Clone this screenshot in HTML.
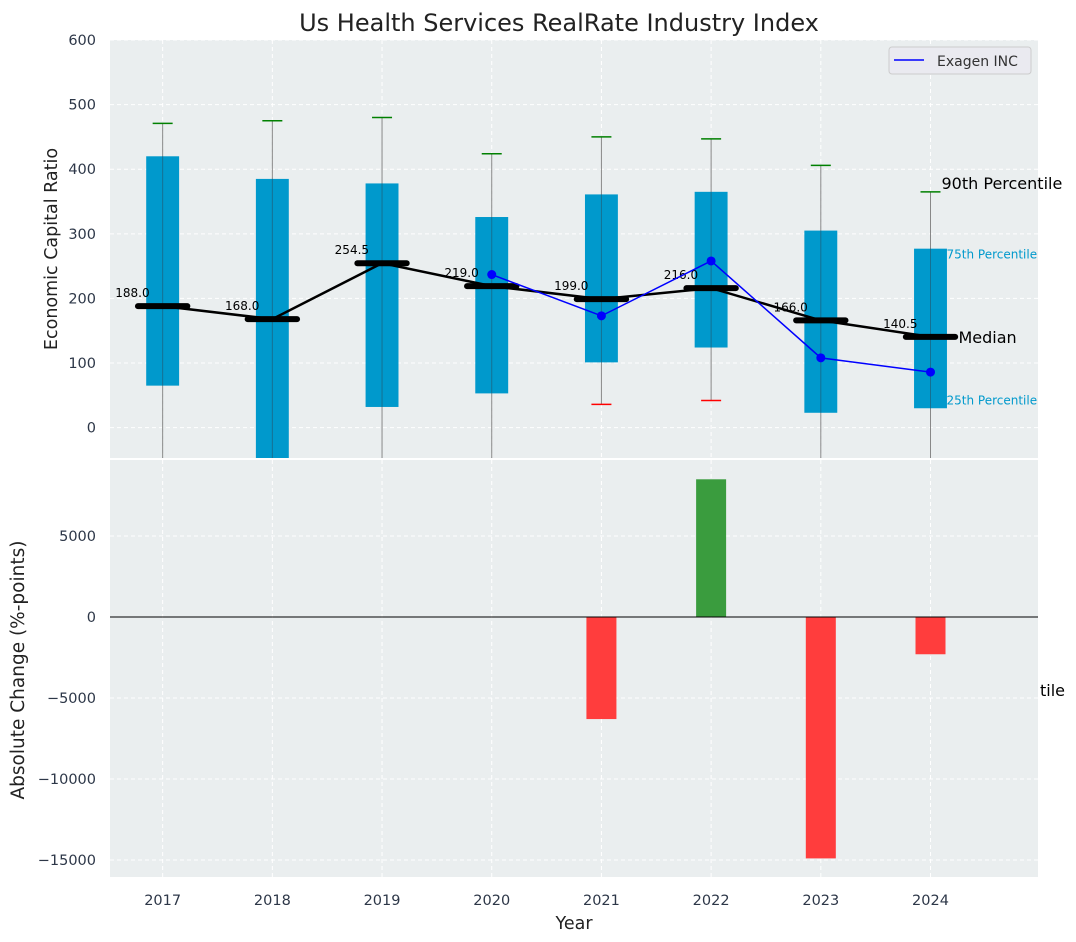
<!DOCTYPE html>
<html><head><meta charset="utf-8"><style>
body{margin:0;background:#fff;}
svg{display:block;font-family:"DejaVu Sans","Liberation Sans",sans-serif;}
</style></head><body>
<svg id="c" width="1076" height="942"></svg>
<script>
const years=[2017,2018,2019,2020,2021,2022,2023,2024];
const p25=[65,-60,32,53,101,124,23,30];
const p75=[420,385,378,326,361,365,305,277];
const p90=[471,475,480,424,450,447,406,365];
const p10=[-100,-100,-100,-100,36,42,-100,-100];
const medians=[188,168,254.5,219,199,216,166,140.5];
const exYears=[2020,2021,2022,2023,2024];
const exVals=[237,173,258,108,86];
const chgYears=[2021,2022,2023,2024];
const chgVals=[-6300,8500,-14900,-2300];
const topTicks=[0,100,200,300,400,500,600];
const botTicks=[-15000,-10000,-5000,0,5000];

const NS="http://www.w3.org/2000/svg";
const svg=document.getElementById('c');
function el(t,a,p){const e=document.createElementNS(NS,t);for(const k in a)e.setAttribute(k,a[k]);(p||svg).appendChild(e);return e;}
const L=110,R=1038;
const x=v=>L+(v-2016.52)*(R-L)/(2024.98-2016.52);
const T0=40,T1=458;const yt=v=>T0+(600-v)*(T1-T0)/(600-(-47));
const B0=460,B1=877;const yb=v=>617-v*81/5000;

let e=el('rect',{x:L,y:T0,width:R-L,height:T1-T0,fill:'#eaeeef'});

e=el('rect',{x:L,y:B0,width:R-L,height:B1-B0,fill:'#eaeeef'});


const clipT=el('clipPath',{id:'ct'});el('rect',{x:L,y:T0,width:R-L,height:T1-T0},clipT);
const clipB=el('clipPath',{id:'cb'});el('rect',{x:L,y:B0,width:R-L,height:B1-B0},clipB);
const gT=el('g',{'clip-path':'url(#ct)'});const gB=el('g',{'clip-path':'url(#cb)'});

topTicks.forEach(v=>{el('line',{x1:L,x2:R,y1:yt(v),y2:yt(v),stroke:'#fff','stroke-dasharray':'4,3','stroke-width':1},gT);
 e=el('text',{x:96,y:yt(v)+5,'text-anchor':'end','font-size':14.5,fill:'#2d3748'});e.textContent=v;
 });
botTicks.forEach(v=>{el('line',{x1:L,x2:R,y1:yb(v),y2:yb(v),stroke:'#fff','stroke-dasharray':'4,3','stroke-width':1},gB);
 e=el('text',{x:96,y:yb(v)+5,'text-anchor':'end','font-size':14.5,fill:'#2d3748'});e.textContent=v===0?'0':(v<0?'\u2212'+(-v):v);
 });
years.forEach(v=>{el('line',{x1:x(v),x2:x(v),y1:T0,y2:T1,stroke:'#fff','stroke-dasharray':'4,3'},gT);
 el('line',{x1:x(v),x2:x(v),y1:B0,y2:B1,stroke:'#fff','stroke-dasharray':'4,3'},gB);
 e=el('text',{x:x(v),y:905,'text-anchor':'middle','font-size':14.5,fill:'#2d3748'});e.textContent=v;
 });

const bw=0.3*(R-L)/8.46;
years.forEach((yr,i)=>{const cx=x(yr);
 e=el('line',{x1:cx,x2:cx,y1:yt(p90[i]),y2:yt(p10[i]),stroke:'#888','stroke-width':1},gT);
 
 e=el('rect',{x:cx-bw/2,y:yt(p75[i]),width:bw,height:yt(p25[i])-yt(p75[i]),fill:'#0099cc'},gT);
 
 el('line',{x1:cx,x2:cx,y1:yt(p75[i]),y2:yt(p25[i]),stroke:'#1f5f7a','stroke-width':1,opacity:0.7},gT);
 e=el('line',{x1:cx-10,x2:cx+10,y1:yt(p90[i]),y2:yt(p90[i]),stroke:'green','stroke-width':1.5},gT);
 
 if(p10[i]>-47){e=el('line',{x1:cx-10,x2:cx+10,y1:yt(p10[i]),y2:yt(p10[i]),stroke:'red','stroke-width':1.5},gT);
 }
});
e=el('polyline',{points:years.map((yr,i)=>x(yr)+','+yt(medians[i])).join(' '),fill:'none',stroke:'#000','stroke-width':2.5});

const mw=0.45*(R-L)/8.46;
years.forEach((yr,i)=>{const cx=x(yr);
 e=el('line',{x1:cx-mw/2,x2:cx+mw/2,y1:yt(medians[i]),y2:yt(medians[i]),stroke:'#000','stroke-width':6,'stroke-linecap':'round'});
 
 e=el('text',{x:cx-13,y:yt(medians[i])-9,'text-anchor':'end','font-size':12,fill:'#000'});e.textContent=medians[i].toFixed(1);
 
});
e=el('polyline',{points:exYears.map((yr,i)=>x(yr)+','+yt(exVals[i])).join(' '),fill:'none',stroke:'blue','stroke-width':1.5});

exYears.forEach((yr,i)=>{e=el('circle',{cx:x(yr),cy:yt(exVals[i]),r:4.5,fill:'blue'});
 });

const lx=x(2024);
[['90th Percentile',lx+11,yt(365)-3,16,'#000'],['75th Percentile',lx+16,yt(277)+10,12,'#0099cc'],['25th Percentile',lx+16,yt(30)-4,12,'#0099cc'],['Median',lx+28,yt(140.5)+6,16,'#000'],['tile',1040,696,16,'#000']].forEach(a=>{
 e=el('text',{x:a[1],y:a[2],'font-size':a[3],fill:a[4]});e.textContent=a[0];
 });

chgYears.forEach((yr,i)=>{const v=chgVals[i];const y0=yb(Math.max(v,0)),y1=yb(Math.min(v,0));
 e=el('rect',{x:x(yr)-15,y:y0,width:30,height:y1-y0,fill:v>=0?'#3a9c3e':'#ff3d3d'},gB);
 });
el('line',{x1:L,x2:R,y1:yb(0),y2:yb(0),stroke:'#000','stroke-width':1});

const lg=el('g',{});
el('rect',{x:889,y:47,width:142,height:27,rx:3,fill:'#eaeaf0',stroke:'#ccc'},lg);
el('line',{x1:894,x2:924,y1:60,y2:60,stroke:'blue','stroke-width':1.5},lg);
e=el('text',{x:937,y:66,'font-size':14,fill:'#333'},lg);e.textContent='Exagen INC';

e=el('text',{x:559,y:31,'text-anchor':'middle','font-size':24,fill:'#222'});e.textContent='Us Health Services RealRate Industry Index';

e=el('text',{x:574,y:929,'text-anchor':'middle','font-size':17.5,fill:'#222'});e.textContent='Year';

e=el('text',{x:0,y:0,'text-anchor':'middle','font-size':17.5,fill:'#222',transform:'translate(57,249) rotate(-90)'});e.textContent='Economic Capital Ratio';

e=el('text',{x:0,y:0,'text-anchor':'middle','font-size':18.5,fill:'#222',transform:'translate(24,670) rotate(-90)'});e.textContent='Absolute Change (%-points)';

</script>
</body></html>
